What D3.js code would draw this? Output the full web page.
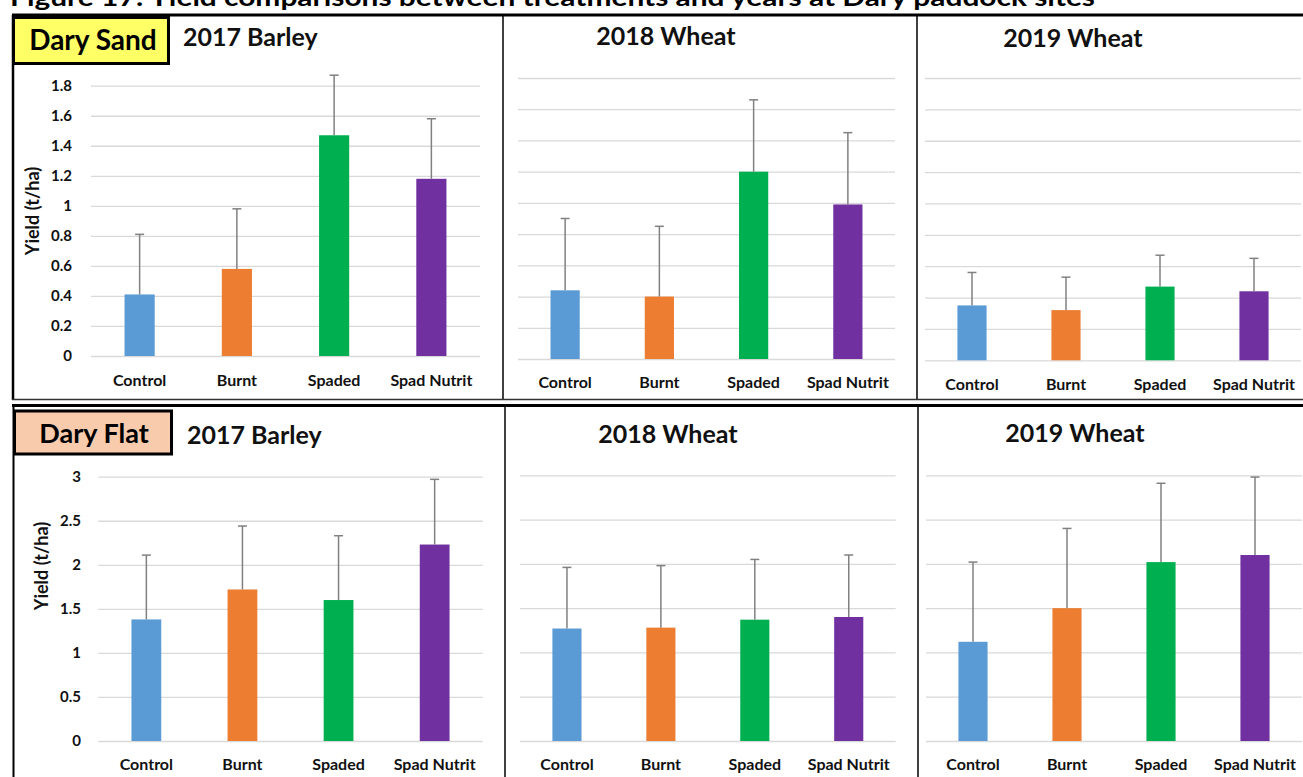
<!DOCTYPE html>
<html>
<head>
<meta charset="utf-8">
<script src="https://cdn.jsdelivr.net/npm/d3@7"></script>
<style>
  html, body { margin: 0; padding: 0; background: #fff; overflow: hidden; }
  svg text { font-family: Lato, "Open Sans", sans-serif; font-weight: 700; fill: #111; }
</style>
</head>
<body>
<svg id="chart" width="1303" height="777"></svg>
<script>
// ---- data (yield, t/ha; error = upper standard error) ----
const categories = ["Control", "Burnt", "Spaded", "Spad Nutrit"];
const barColors = ["#5B9BD5", "#ED7D31", "#00B050", "#7030A0"];
const sites = ["Dary Sand", "Dary Flat"];
const crops = ["2017 Barley", "2018 Wheat", "2019 Wheat"];

const sand2017Barley = [0.41, 0.58, 1.47, 1.18];
const sand2017BarleyErr = [0.40, 0.40, 0.40, 0.40];
const sand2018Wheat = [0.44, 0.40, 1.20, 0.99];
const sand2018WheatErr = [0.46, 0.45, 0.46, 0.46];
const sand2019Wheat = [0.35, 0.32, 0.47, 0.44];
const sand2019WheatErr = [0.21, 0.21, 0.20, 0.21];

const flat2017Barley = [1.38, 1.72, 1.60, 2.23];
const flat2017BarleyErr = [0.73, 0.72, 0.73, 0.74];
const flat2018Wheat = [1.27, 1.28, 1.37, 1.40];
const flat2018WheatErr = [0.69, 0.70, 0.68, 0.70];
const flat2019Wheat = [1.12, 1.50, 2.02, 2.10];
const flat2019WheatErr = [0.90, 0.90, 0.89, 0.88];

const sandTicks = [0, 0.2, 0.4, 0.6, 0.8, 1, 1.2, 1.4, 1.6, 1.8];
const flatTicks = [0, 0.5, 1, 1.5, 2, 2.5, 3];

const figureTitle = "Figure 17: Yield comparisons between treatments and years at Dary paddock sites";
const yAxisTitle = "Yield (t/ha)";

// ---- panel layout ----
const panels = [
  { crop: 0, values: sand2017Barley, errors: sand2017BarleyErr, ticks: sandTicks,
    x0: 91, x1: 480, yBase: 356, yTop: 85.7, axis: true, tickRight: 72, yTitleX: 33, yTitleY: 211,
    titleX: 183, titleAnchor: "start", titleY: 46, labelY: 386 },
  { crop: 1, values: sand2018Wheat, errors: sand2018WheatErr, ticks: sandTicks,
    x0: 518, x1: 895, yBase: 359, yTop: 78, axis: false,
    titleX: 666, titleAnchor: "middle", titleY: 45, labelY: 388 },
  { crop: 2, values: sand2019Wheat, errors: sand2019WheatErr, ticks: sandTicks,
    x0: 925, x1: 1301, yBase: 360.3, yTop: 78, axis: false,
    titleX: 1073, titleAnchor: "middle", titleY: 46.5, labelY: 390 },
  { crop: 0, values: flat2017Barley, errors: flat2017BarleyErr, ticks: flatTicks,
    x0: 98.3, x1: 482.7, yBase: 741, yTop: 476.7, axis: true, tickRight: 81, yTitleX: 41.7, yTitleY: 566,
    titleX: 187, titleAnchor: "start", titleY: 444, labelY: 770 },
  { crop: 1, values: flat2018Wheat, errors: flat2018WheatErr, ticks: flatTicks,
    x0: 520, x1: 895.7, yBase: 741, yTop: 475.3, axis: false,
    titleX: 668, titleAnchor: "middle", titleY: 443.3, labelY: 770 },
  { crop: 2, values: flat2019Wheat, errors: flat2019WheatErr, ticks: flatTicks,
    x0: 926, x1: 1302, yBase: 741, yTop: 475.3, axis: false,
    titleX: 1075, titleAnchor: "middle", titleY: 442.3, labelY: 770 }
];

const svg = d3.select("#chart");

// figure caption (runs off the top edge of the page)
svg.append("text")
  .attr("x", 10).attr("y", 6)
  .attr("textLength", 1085)
  .attr("lengthAdjust", "spacingAndGlyphs")
  .style("font-size", "25px")
  .style("fill", "#000")
  .text(figureTitle);

panels.forEach(p => {
  const g = svg.append("g");
  const top = p.ticks[p.ticks.length - 1];
  const y = d3.scaleLinear().domain([0, top]).range([p.yBase, p.yTop]);
  const x = d3.scaleBand().domain(categories).range([p.x0, p.x1])
    .paddingInner(0.69).paddingOuter(0.345);

  // horizontal gridlines
  g.append("g")
    .attr("transform", `translate(${p.x0},0)`)
    .call(d3.axisLeft(y).tickValues(p.ticks).tickSize(-(p.x1 - p.x0)).tickFormat(""))
    .call(a => a.select(".domain").remove())
    .selectAll("line")
    .attr("stroke", "#d9d9d9")
    .attr("stroke-width", 1.3);

  // value axis labels (only the first chart of each row)
  if (p.axis) {
    g.append("g")
      .attr("transform", `translate(${p.tickRight},0)`)
      .call(d3.axisLeft(y).tickValues(p.ticks).tickSize(0).tickPadding(0).tickFormat(d3.format("~g")))
      .call(a => a.select(".domain").remove())
      .selectAll("text")
      .attr("font-family", null)
      .attr("font-size", null)
      .style("font-size", "15px")
      .attr("fill", null);

    g.append("text")
      .attr("transform", `translate(${p.yTitleX},${p.yTitleY}) rotate(-90)`)
      .attr("text-anchor", "middle")
      .attr("dy", "0.35em")
      .style("font-size", "18px")
      .text(yAxisTitle);
  }

  // category labels
  g.append("g")
    .attr("transform", `translate(0,${p.labelY})`)
    .call(d3.axisBottom(x).tickSize(0).tickPadding(0))
    .call(a => a.select(".domain").remove())
    .selectAll("text")
    .attr("font-family", null)
    .attr("font-size", null)
    .attr("fill", null)
    .attr("dy", "0")
    .style("font-size", "16px");

  // bars
  g.selectAll("rect.bar")
    .data(categories)
    .join("rect")
    .attr("class", "bar")
    .attr("x", c => x(c))
    .attr("width", x.bandwidth())
    .attr("y", (c, i) => y(p.values[i]))
    .attr("height", (c, i) => y(0) - y(p.values[i]))
    .attr("fill", (c, i) => barColors[i]);

  // upper error bars
  const cx = c => x(c) + x.bandwidth() / 2;
  g.selectAll("line.err")
    .data(categories)
    .join("line")
    .attr("class", "err")
    .attr("x1", cx).attr("x2", cx)
    .attr("y1", (c, i) => y(p.values[i]))
    .attr("y2", (c, i) => y(p.values[i] + p.errors[i]))
    .attr("stroke", "#808080")
    .attr("stroke-width", 1.5);
  g.selectAll("line.cap")
    .data(categories)
    .join("line")
    .attr("class", "cap")
    .attr("x1", c => cx(c) - 4.5).attr("x2", c => cx(c) + 4.5)
    .attr("y1", (c, i) => y(p.values[i] + p.errors[i]))
    .attr("y2", (c, i) => y(p.values[i] + p.errors[i]))
    .attr("stroke", "#808080")
    .attr("stroke-width", 1.5);

  // chart title
  g.append("text")
    .attr("x", p.titleX).attr("y", p.titleY)
    .attr("text-anchor", p.titleAnchor)
    .style("font-size", "25px")
    .text(crops[p.crop]);
});

// ---- frames ----
const frame = svg.append("g").attr("stroke", "#000").attr("fill", "none");
// top row
frame.append("line").attr("x1", 12).attr("x2", 1303).attr("y1", 15).attr("y2", 15).attr("stroke-width", 3);
frame.append("line").attr("x1", 13).attr("x2", 13).attr("y1", 15).attr("y2", 400).attr("stroke-width", 2.5);
frame.append("line").attr("x1", 503).attr("x2", 503).attr("y1", 15).attr("y2", 400).attr("stroke-width", 1.5);
frame.append("line").attr("x1", 917).attr("x2", 917).attr("y1", 15).attr("y2", 400).attr("stroke-width", 1.5);
frame.append("line").attr("x1", 12).attr("x2", 1303).attr("y1", 399.5).attr("y2", 399.5).attr("stroke-width", 1.5).attr("stroke", "#333");
// bottom row
frame.append("line").attr("x1", 12).attr("x2", 1303).attr("y1", 405.5).attr("y2", 405.5).attr("stroke-width", 3);
frame.append("line").attr("x1", 13.5).attr("x2", 13.5).attr("y1", 405).attr("y2", 777).attr("stroke-width", 2);
frame.append("line").attr("x1", 505).attr("x2", 505).attr("y1", 405).attr("y2", 777).attr("stroke-width", 1.5);
frame.append("line").attr("x1", 918).attr("x2", 918).attr("y1", 405).attr("y2", 777).attr("stroke-width", 1.5);

// site labels
const siteBoxes = [
  { x: 13.5, y: 17.5, w: 155, h: 46, fill: "#FFFF66", tx: 93, ty: 50, size: 28 },
  { x: 14.5, y: 411, w: 157, h: 43, fill: "#F8CBAD", tx: 94, ty: 443, size: 27 }
];
siteBoxes.forEach((b, i) => {
  svg.append("rect")
    .attr("x", b.x).attr("y", b.y).attr("width", b.w).attr("height", b.h)
    .attr("fill", b.fill).attr("stroke", "#000").attr("stroke-width", 3);
  svg.append("text")
    .attr("x", b.tx).attr("y", b.ty)
    .attr("text-anchor", "middle")
    .style("font-size", b.size + "px")
    .style("fill", "#000")
    .text(sites[i]);
});
</script>
</body>
</html>
